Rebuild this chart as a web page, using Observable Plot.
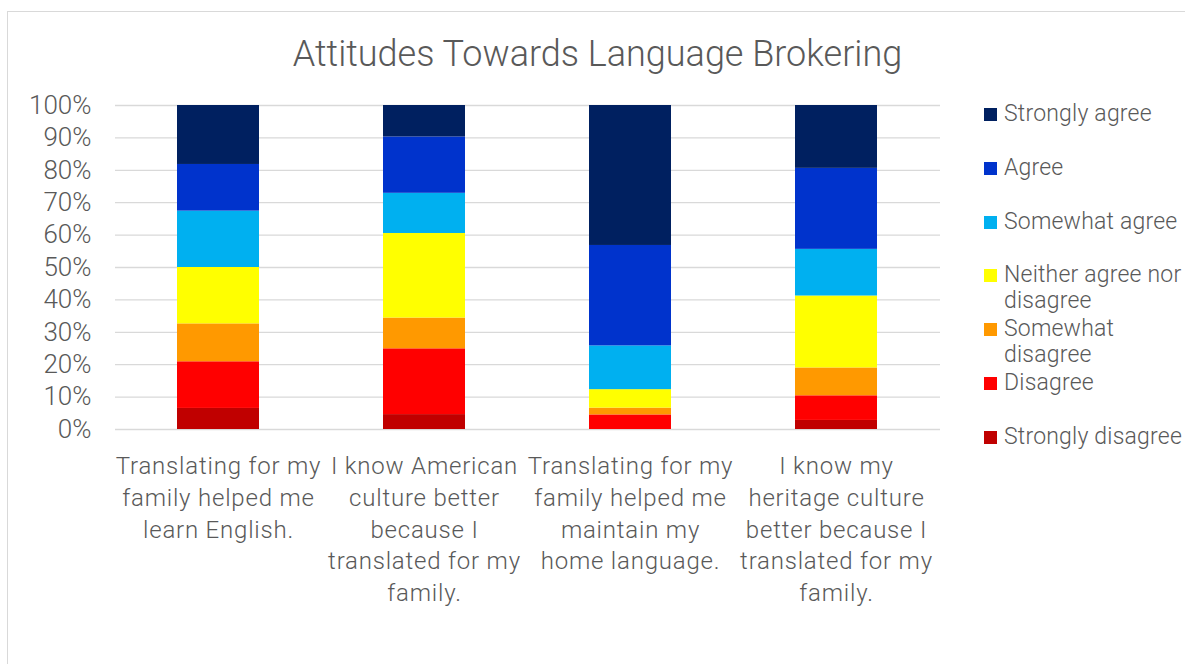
<!DOCTYPE html>
<html>
<head>
<meta charset="utf-8">
<script src="https://cdn.jsdelivr.net/npm/d3@7"></script>
<script src="https://cdn.jsdelivr.net/npm/@observablehq/plot@0.6"></script>
<style>
  html, body { margin: 0; padding: 0; background: #fff; }
  body { width: 1185px; height: 664px; position: relative; overflow: hidden; font-family: Roboto, "Liberation Sans", sans-serif; color: #595959; }
  #frame { position: absolute; left: 7px; top: 11px; width: 1300px; height: 800px; border: 1px solid #d9d9d9; box-sizing: border-box; }
  #title { position: absolute; left: 0; width: 1195px; top: 36px; text-align: center; font-size: 36px; line-height: 36px; font-weight: 300; }
  #chart { position: absolute; left: 0; top: 0; }
  #chart svg g[aria-label="x-axis tick label"] { letter-spacing: 0.8px; }
  #legend { position: absolute; left: 984px; top: 0; }
  .item { position: absolute; left: 0; display: flex; align-items: flex-start; white-space: pre; font-size: 23px; line-height: 26px; font-weight: 300; letter-spacing: 0.2px; }
  .sw { width: 13px; height: 13px; margin-top: 7px; margin-right: 7px; flex: none; }
</style>
</head>
<body>
<div id="frame"></div>
<div id="title">Attitudes Towards Language Brokering</div>
<div id="chart"></div>
<div id="legend"></div>
<script>
// ---- data ----
const categories = [
  "Translating for my family helped me learn English.",
  "I know American culture better because I translated for my family.",
  "Translating for my family helped me maintain my home language.",
  "I know my heritage culture better because I translated for my family."
];
const categoryLabels = [
  "Translating for my\nfamily helped me\nlearn English.",
  "I know American\nculture better\nbecause I\ntranslated for my\nfamily.",
  "Translating for my\nfamily helped me\nmaintain my\nhome language.",
  "I know my\nheritage culture\nbetter because I\ntranslated for my\nfamily."
];
// levels bottom -> top
const levels = ["Strongly disagree", "Disagree", "Somewhat disagree", "Neither agree nor disagree", "Somewhat agree", "Agree", "Strongly agree"];
const legendLabels = ["Strongly disagree", "Disagree", "Somewhat\ndisagree", "Neither agree nor\ndisagree", "Somewhat agree", "Agree", "Strongly agree"];
const colors = ["#C00000", "#FF0000", "#FF9900", "#FFFF00", "#00B0F0", "#0033CC", "#002060"];
// percentages per category
const stronglyDisagree = [6.5, 4.6, 0.0, 2.8];
const disagree         = [14.4, 20.3, 4.5, 7.6];
const somewhatDisagree = [11.7, 9.5, 2.1, 8.6];
const neither          = [17.4, 26.1, 5.7, 22.2];
const somewhatAgree    = [17.4, 12.4, 13.5, 14.4];
const agree            = [14.4, 17.4, 31.0, 25.0];
const stronglyAgree    = [18.2, 9.7, 43.2, 19.4];
const yTicks = [0, 0.1, 0.2, 0.3, 0.4, 0.5, 0.6, 0.7, 0.8, 0.9, 1.0];

const series = [stronglyDisagree, disagree, somewhatDisagree, neither, somewhatAgree, agree, stronglyAgree];
const data = [];
levels.forEach((lev, li) => {
  categories.forEach((cat, ci) => {
    data.push({category: cat, level: lev, value: series[li][ci] / 100});
  });
});
const labelOf = new Map(categories.map((c, i) => [c, categoryLabels[i]]));

const chart = Plot.plot({
  width: 950,
  height: 620,
  marginLeft: 115,
  marginRight: 10,
  marginTop: 105,
  marginBottom: 191,
  style: {fontFamily: "Roboto, 'Liberation Sans', sans-serif", color: "#595959", background: "transparent", fontWeight: 300},
  x: {domain: categories, paddingInner: 0.6, paddingOuter: 0.3, align: 0.5, axis: null},
  y: {domain: [0, 1], axis: null},
  color: {domain: levels, range: colors},
  marks: [
    Plot.gridY(yTicks, {stroke: "#d9d9d9", strokeOpacity: 1, strokeWidth: 1.3}),
    Plot.barY(data, Plot.stackY({x: "category", y: "value", fill: "level", order: levels})),
    Plot.axisY(yTicks, {tickSize: 0, tickPadding: 24, fontSize: 26, label: null, tickFormat: d => Math.round(d * 100) + "%"}),
    Plot.axisX({tickSize: 0, tickPadding: 21.5, fontSize: 24, lineHeight: 1.33, label: null, tickFormat: d => labelOf.get(d)})
  ]
});
document.getElementById("chart").appendChild(chart);

// legend (top -> bottom)
const legend = document.getElementById("legend");
const order = levels.map((_, i) => levels.length - 1 - i);
order.forEach((li, k) => {
  const item = document.createElement("div");
  item.className = "item";
  item.style.top = (114 - 13 + k * 53.8) + "px";
  const sw = document.createElement("div");
  sw.className = "sw";
  sw.style.background = colors[li];
  const tx = document.createElement("div");
  tx.textContent = legendLabels[li];
  item.appendChild(sw);
  item.appendChild(tx);
  legend.appendChild(item);
});
</script>
</body>
</html>
